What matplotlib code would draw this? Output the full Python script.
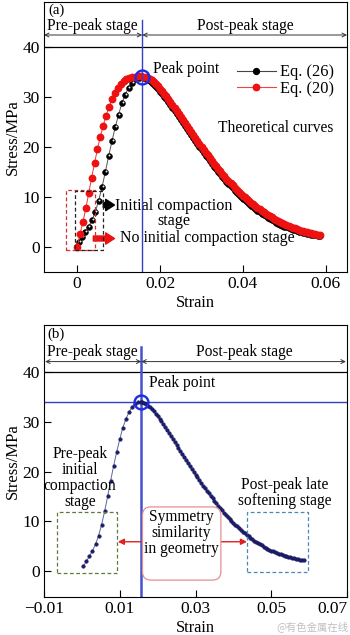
import matplotlib
matplotlib.use('Agg')
import matplotlib.pyplot as plt
from matplotlib.patches import Rectangle, FancyBboxPatch
from matplotlib.lines import Line2D
from matplotlib.transforms import ScaledTranslation

plt.rcParams['font.family'] = ['Liberation Serif', 'DejaVu Serif']
plt.rcParams['axes.unicode_minus'] = True

# ---------------- data ----------------
strain_eq26 = [0.0004, 0.0012, 0.0020, 0.0028, 0.0036, 0.0044, 0.0052, 0.0060, 0.0068, 0.0076,
               0.0084, 0.0092, 0.0100, 0.0108, 0.0116, 0.0124, 0.0132, 0.0140, 0.0148, 0.0156,
               0.0160, 0.0165, 0.0170, 0.0175, 0.0180, 0.0185, 0.0190, 0.0195, 0.0200, 0.0205,
               0.0210, 0.0215, 0.0220, 0.0225, 0.0230, 0.0235, 0.0240, 0.0245, 0.0250, 0.0255,
               0.0260, 0.0265, 0.0270, 0.0275, 0.0280, 0.0285, 0.0290, 0.0295, 0.0300, 0.0305,
               0.0310, 0.0315, 0.0320, 0.0325, 0.0330, 0.0335, 0.0340, 0.0345, 0.0350, 0.0355,
               0.0360, 0.0365, 0.0370, 0.0375, 0.0380, 0.0385, 0.0390, 0.0395, 0.0400, 0.0405,
               0.0410, 0.0415, 0.0420, 0.0425, 0.0430, 0.0435, 0.0440, 0.0445, 0.0450, 0.0455,
               0.0460, 0.0465, 0.0470, 0.0475, 0.0480, 0.0485, 0.0490, 0.0495, 0.0500, 0.0505,
               0.0510, 0.0515, 0.0520, 0.0525, 0.0530, 0.0535, 0.0540, 0.0545, 0.0550, 0.0555,
               0.0560, 0.0565, 0.0570, 0.0575, 0.0580, 0.0586]
stress_eq26 = [1.0, 2.0, 3.0, 4.1, 5.4, 7.1, 9.3, 12.0, 15.0, 18.2,
               21.2, 24.0, 26.5, 28.8, 30.5, 31.9, 32.9, 33.6, 33.9, 34.0,
               33.9, 33.7, 33.5, 33.2, 32.9, 32.5, 32.1, 31.6, 31.1, 30.6,
               30.1, 29.6, 29.0, 28.4, 27.8, 27.2, 26.6, 26.0, 25.4, 24.8,
               24.2, 23.6, 23.0, 22.4, 21.8, 21.2, 20.6, 20.0, 19.4, 18.85,
               18.3, 17.75, 17.2, 16.65, 16.1, 15.6, 15.1, 14.6, 14.1, 13.6,
               13.1, 12.65, 12.2, 11.75, 11.3, 10.9, 10.5, 10.1, 9.7, 9.35,
               9.0, 8.65, 8.3, 7.95, 7.6, 7.3, 7.0, 6.7, 6.4, 6.15,
               5.9, 5.65, 5.4, 5.15, 4.9, 4.7, 4.5, 4.3, 4.1, 3.95,
               3.8, 3.65, 3.5, 3.35, 3.2, 3.1, 3.0, 2.9, 2.8, 2.7,
               2.6, 2.5, 2.4, 2.33, 2.26, 2.2]

strain_eq20 = [0.0000, 0.0007, 0.0014, 0.0021, 0.0028, 0.0035, 0.0042, 0.0049, 0.0056, 0.0063,
               0.0070, 0.0077, 0.0084, 0.0091, 0.0098, 0.0105, 0.0112, 0.0119, 0.0126, 0.0133,
               0.0140, 0.0147, 0.0154,
               0.0160, 0.0165, 0.0170, 0.0175, 0.0180, 0.0185, 0.0190, 0.0195, 0.0200, 0.0205,
               0.0210, 0.0215, 0.0220, 0.0225, 0.0230, 0.0235, 0.0240, 0.0245, 0.0250, 0.0255,
               0.0260, 0.0265, 0.0270, 0.0275, 0.0280, 0.0285, 0.0290, 0.0295, 0.0300, 0.0305,
               0.0310, 0.0315, 0.0320, 0.0325, 0.0330, 0.0335, 0.0340, 0.0345, 0.0350, 0.0355,
               0.0360, 0.0365, 0.0370, 0.0375, 0.0380, 0.0385, 0.0390, 0.0395, 0.0400, 0.0405,
               0.0410, 0.0415, 0.0420, 0.0425, 0.0430, 0.0435, 0.0440, 0.0445, 0.0450, 0.0455,
               0.0460, 0.0465, 0.0470, 0.0475, 0.0480, 0.0485, 0.0490, 0.0495, 0.0500, 0.0505,
               0.0510, 0.0515, 0.0520, 0.0525, 0.0530, 0.0535, 0.0540, 0.0545, 0.0550, 0.0555,
               0.0560, 0.0565, 0.0570, 0.0575, 0.0580, 0.0585]
stress_eq20 = [0.0, 2.6, 5.0, 7.8, 10.8, 13.9, 16.8, 19.6, 22.1, 24.3,
               26.3, 28.0, 29.6, 30.9, 31.9, 32.7, 33.3, 33.7, 33.9, 34.05,
               34.1, 34.15, 34.15,
               34.1, 34.0, 33.9, 33.7, 33.4, 33.1, 32.7, 32.2, 31.7, 31.2,
               30.7, 30.2, 29.6, 29.0, 28.4, 27.8, 27.2, 26.6, 26.0, 25.4,
               24.8, 24.2, 23.6, 23.0, 22.4, 21.8, 21.2, 20.6, 20.0, 19.45,
               18.9, 18.35, 17.8, 17.25, 16.7, 16.2, 15.7, 15.2, 14.7, 14.2,
               13.7, 13.25, 12.8, 12.35, 11.9, 11.5, 11.1, 10.7, 10.3, 9.95,
               9.6, 9.25, 8.9, 8.55, 8.2, 7.9, 7.6, 7.3, 7.0, 6.7,
               6.45, 6.2, 5.95, 5.7, 5.45, 5.2, 5.0, 4.8, 4.6, 4.4,
               4.2, 4.05, 3.9, 3.75, 3.6, 3.45, 3.3, 3.2, 3.05, 2.95,
               2.85, 2.75, 2.65, 2.55, 2.45, 2.35]

peak_strain = 0.0157
peak_stress = 34.0

yticks = [0, 10, 20, 30, 40]
xticks_a = [0, 0.02, 0.04, 0.06]
xtick_labels_a = ['0', '0.02', '0.04', '0.06']
xticks_b = [-0.01, 0.01, 0.03, 0.05, 0.07]
xtick_labels_b = ['\u22120.01', '0.01', '0.03', '0.05', '0.07']

FS = 11.2
BLUE = '#3340c8'

fig = plt.figure(figsize=(3.5, 6.35), dpi=100)
axa = fig.add_axes([44/350, 1-272/635, 303/350, 270/635])
axb = fig.add_axes([44/350, 1-597/635, 303/350, 272/635])

for ax in (axa, axb):
    ax.set_yticks(yticks)
    ax.tick_params(direction='in', length=5, width=0.8, labelsize=12.5,
                   top=False, right=False, pad=3)
    for s in ax.spines.values():
        s.set_linewidth(0.8)
    ax.set_ylabel('Stress/MPa', fontsize=12, labelpad=1)
    ax.set_xlabel('Strain', fontsize=11.8, labelpad=2)
    ax.axhline(40, color='black', lw=0.9, zorder=1)

# ---------------- panel (a) ----------------
xa0, xa1 = -0.0080, 0.0651
axa.set_xlim(xa0, xa1)
axa.set_ylim(-5.0, 49.0)
axa.set_xticks(xticks_a)
axa.set_xticklabels(xtick_labels_a)

axa.plot(strain_eq26, stress_eq26, '-', color='#555555', lw=0.7, zorder=3)
axa.plot(strain_eq26, stress_eq26, 'o', ls='none', ms=4.2, mfc='black', mec='black',
         mew=0.4, zorder=3)
hl = axa.transData + ScaledTranslation(0.7/100, 0.7/100, fig.dpi_scale_trans)
axa.plot(strain_eq26, stress_eq26, 'o', ls='none', ms=1.4, mfc='#eeeeee', mec='none',
         zorder=3.1, transform=hl)
axa.plot(strain_eq20, stress_eq20, '-', color='#ee3333', lw=0.7, zorder=4)
axa.plot(strain_eq20, stress_eq20, 'o', ls='none', ms=4.6, mfc='#ee1111', mec='#ee1111',
         zorder=4)

axa.plot([peak_strain, peak_strain], [-5.0, 45.4], color=BLUE, lw=1.0, zorder=5)
axa.plot([peak_strain], [peak_stress], 'o', ms=10, mfc='none', mec='#1a2ee6', mew=1.7, zorder=6)

for xe in (xa0, xa1):
    axa.annotate('', xy=(xe, 42.4), xytext=(peak_strain, 42.4),
                 arrowprops=dict(arrowstyle='<->', lw=0.7, color='#333333',
                                 shrinkA=0, shrinkB=0, mutation_scale=7))
axa.text(-0.0070, 47.4, '(a)', fontsize=FS - 0.5, ha='left', va='center')
axa.text(-0.0073, 44.3, 'Pre-peak stage', fontsize=FS, ha='left', va='center')
axa.text(0.0405, 44.3, 'Post-peak stage', fontsize=FS, ha='center', va='center')
axa.text(0.0183, 35.6, 'Peak point', fontsize=FS, ha='left', va='center')
axa.text(0.0617, 23.8, 'Theoretical curves', fontsize=FS, ha='right', va='center')

h1 = Line2D([], [], color='#444444', lw=0.8, marker='o', ms=4.2, mfc='black', mec='black')
h2 = Line2D([], [], color='#ee4444', lw=0.8, marker='o', ms=4.6, mfc='#ee1111', mec='#ee1111')
axa.legend([h1, h2], ['Eq. (26)', 'Eq. (20)'], loc='upper right',
           bbox_to_anchor=(0.99, 0.805), frameon=False, fontsize=FS + 0.6,
           handlelength=2.4, handletextpad=0.25, labelspacing=0.02, borderpad=0.1)

axa.add_patch(Rectangle((-0.0026, -0.6), 0.0069, 12.0, fill=False, ls=(0, (3, 2)),
                        ec='#cc3333', lw=0.9, zorder=6))
axa.add_patch(Rectangle((-0.0005, -0.6), 0.0068, 11.9, fill=False, ls=(0, (3, 2)),
                        ec='#222222', lw=0.9, zorder=6))
axa.annotate('', xy=(0.0090, 8.4), xytext=(0.0063, 8.4),
             arrowprops=dict(arrowstyle='simple,head_length=0.7,head_width=0.9,tail_width=0.4',
                             color='black', shrinkA=0, shrinkB=0, mutation_scale=9))
axa.annotate('', xy=(0.0090, 1.7), xytext=(0.0039, 1.7),
             arrowprops=dict(arrowstyle='simple,head_length=0.7,head_width=0.9,tail_width=0.4',
                             color='#ee1111', shrinkA=0, shrinkB=0, mutation_scale=9))
axa.text(0.0234, 6.7, 'Initial compaction\nstage', fontsize=FS + 0.4, ha='center',
         va='center', linespacing=0.92)
axa.text(0.0103, 1.7, 'No initial compaction stage', fontsize=FS + 0.2, ha='left', va='center')

# ---------------- panel (b) ----------------
xb0, xb1 = -0.0097, 0.0697
axb.set_xlim(xb0, xb1)
axb.set_ylim(-5.2, 49.45)
axb.set_xticks(xticks_b)
axb.set_xticklabels(xtick_labels_b)
axb.get_xticklabels()[-1].set_horizontalalignment('right')

axb.axhline(peak_stress, color=BLUE, lw=1.0, zorder=2)
axb.plot([peak_strain, peak_strain], [-5.2, 45.0], color='#4452d0', lw=1.8, zorder=2)
axb.plot(strain_eq26, stress_eq26, '-', color='#5a6a9a', lw=0.7, zorder=3)
axb.plot(strain_eq26, stress_eq26, 'o', ls='none', ms=2.6, mfc='#1c1c70', mec='#14144e',
         mew=0.3, zorder=3)
axb.plot([peak_strain], [peak_stress], 'o', ms=10, mfc='none', mec='#1a2ee6', mew=1.7, zorder=6)

for xe in (xb0, xb1):
    axb.annotate('', xy=(xe, 42.1), xytext=(peak_strain, 42.1),
                 arrowprops=dict(arrowstyle='<->', lw=0.7, color='#333333',
                                 shrinkA=0, shrinkB=0, mutation_scale=7))
axb.text(-0.0091, 47.5, '(b)', fontsize=FS - 0.5, ha='left', va='center')
axb.text(-0.0093, 44.1, 'Pre-peak stage', fontsize=FS, ha='left', va='center')
axb.text(0.0429, 44.1, 'Post-peak stage', fontsize=FS, ha='center', va='center')
axb.text(0.0176, 37.8, 'Peak point', fontsize=FS, ha='left', va='center')

axb.add_patch(Rectangle((-0.0065, -0.3), 0.0159, 12.2, fill=False, ls=(0, (3, 2)),
                        ec='#5b7a3c', lw=0.9, zorder=4))
axb.add_patch(Rectangle((0.0437, -0.1), 0.0161, 12.0, fill=False, ls=(0, (3, 2)),
                        ec='#4a88b4', lw=0.9, zorder=4))
axb.annotate('', xy=(0.0095, 5.9), xytext=(0.0436, 5.9),
             arrowprops=dict(arrowstyle='<|-|>', lw=1.0, color='#e02020',
                             shrinkA=0, shrinkB=0, mutation_scale=9), zorder=4)
axb.add_patch(FancyBboxPatch((0.0160, -1.8), 0.0207, 14.7,
                             boxstyle='round,pad=0,rounding_size=0.0022',
                             mutation_aspect=769, fc='white', ec='#e49090', lw=0.9, zorder=6))
axb.text(0.0263, 7.7, 'Symmetry\nsimilarity\nin geometry', fontsize=FS, ha='center',
         va='center', linespacing=1.0, zorder=7)
axb.text(-0.0005, 18.7, 'Pre-peak\ninitial\ncompaction\nstage', fontsize=FS, ha='center',
         va='center', linespacing=0.98, zorder=5)
axb.text(0.0535, 15.7, 'Post-peak late\nsoftening stage', fontsize=FS, ha='center',
         va='center', linespacing=0.98, zorder=5)

fig.text(0.995, 0.004, '@有色金属在线', fontsize=7.5, color='#c0c0c0', ha='right', va='bottom',
         family=['Noto Sans CJK SC', 'DejaVu Sans'])

fig.savefig('out.png', dpi=100)
